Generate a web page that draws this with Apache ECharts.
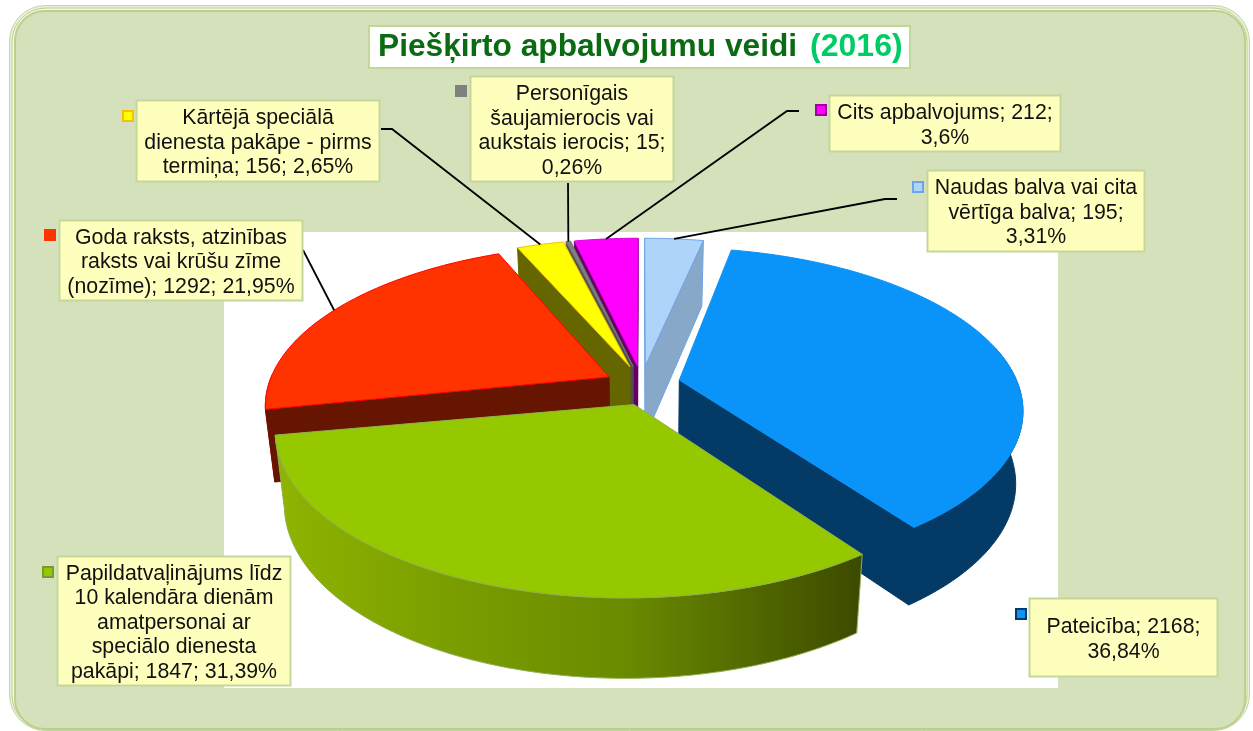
<!DOCTYPE html>
<html>
<head>
<meta charset="utf-8">
<script src="https://cdn.jsdelivr.net/npm/echarts@6/dist/echarts.min.js"></script>
<style>html,body{margin:0;padding:0;background:#fff}#c{width:1253px;height:731px}</style>
</head>
<body>
<div id="c"></div>
<script>
// ---- data (clockwise from 12 o'clock) ----
const categories = [
  'Naudas balva vai cita vērtīga balva',
  'Pateicība',
  'Papildatvaļinājums līdz 10 kalendāra dienām amatpersonai ar speciālo dienesta pakāpi',
  'Goda raksts, atzinības raksts vai krūšu zīme (nozīme)',
  'Kārtējā speciālā dienesta pakāpe - pirms termiņa',
  'Personīgais šaujamierocis vai aukstais ierocis',
  'Cits apbalvojums'
];
const values = [195, 2168, 1847, 1292, 156, 15, 212];
const percents = ['3,31%', '36,84%', '31,39%', '21,95%', '2,65%', '0,26%', '3,6%'];
const labelTexts = [
  'Naudas balva vai cita\nvērtīga balva; 195;\n3,31%',
  'Pateicība; 2168;\n36,84%',
  'Papildatvaļinājums līdz\n10 kalendāra dienām\namatpersonai ar\nspeciālo dienesta\npakāpi; 1847; 31,39%',
  'Goda raksts, atzinības\nraksts vai krūšu zīme\n(nozīme); 1292; 21,95%',
  'Kārtējā speciālā\ndienesta pakāpe - pirms\ntermiņa; 156; 2,65%',
  'Personīgais\nšaujamierocis vai\naukstais ierocis; 15;\n0,26%',
  'Cits apbalvojums; 212;\n3,6%'
];

// ---- styles ----
const topColors  = ['#AFD4FA', '#0A94FA', '#96C800', '#FF3300', '#FFFF00', '#808080', '#FF00FF'];
const wallColors = ['#87A8C8', '#033A66', '#5F7F00', '#661500', '#666600', '#505050', '#660066'];
const edgeColors = ['#6FA5E6', '#0A94FA', '#8FB050', '#FF0000', '#F5C000', '#707070', '#E000E0'];
const keyEdges   = ['#6FA5E6', '#033A66', '#7A9A30', '#FF3300', '#F5C000', '#808080', '#A000A0'];
const greenWall = {type:'linear',x:0,y:0,x2:1,y2:0,colorStops:[
  {offset:0,color:'#8FB400'},{offset:.3,color:'#7A9E00'},{offset:.6,color:'#6A8A00'},{offset:1,color:'#3C4A00'}]};

// ---- projection of the exploded 3D disc ----
const view = {cx:641.5, cy:382.5, rx:340, ry:156.5, depth:71.5, persp:5.5, explode:0.108, shrink:0.975};
// small per-slice correction of the apex, in px, for the source chart's camera
const apexNudge = [[0,0],[2,1],[6,6],[0,2],[0,0],[0,0],[0,0]];
const total = values.reduce((a,b)=>a+b,0);
const starts = [];
values.reduce((acc,v,i)=>{starts[i]=acc/total*360;return acc+v;},0);
const rad = d=>d*Math.PI/180;
function proj(i,deg,r,bottom){
  const a0=starts[i], a1=a0+values[i]/total*360, m=rad((a0+a1)/2);
  const X=view.explode*Math.sin(m)+r*Math.sin(rad(deg));
  const Y=view.explode*Math.cos(m)+r*Math.cos(rad(deg));
  const s=view.persp/(view.persp+Y);
  const sh=bottom?(i===1?0.981:view.shrink):1;
  const n=r===0?apexNudge[i]:[0,0];
  return [view.cx+view.rx*X*s*sh+n[0], view.cy-view.ry*Y*s+(bottom?view.depth*(1+.5*(s-1)):0)+n[1]];
}
function arc(i,a,b,bottom){
  const pts=[];const n=Math.max(2,Math.ceil(Math.abs(b-a)));
  for(let k=0;k<=n;k++)pts.push(proj(i,a+(b-a)*k/n,1,bottom));
  return pts;
}
// painter's order: back slices first, green (front) last
const drawOrder = [0, 6, 5, 4, 1, 3, 2];
const zOf={};drawOrder.forEach((idx,k)=>zOf[idx]=(k+1)*10);

function renderSlice(params,api){
  const i=api.value(0);
  const a0=starts[i], a1=a0+values[i]/total*360;
  const z=zOf[i];
  const kids=[];
  const poly=(points,fill,stroke,z2)=>kids.push({type:'polygon',z2,shape:{points},
    style:{fill,stroke,lineWidth:stroke?1:0,lineJoin:'round'}});
  const apexT=proj(i,a0,0,false), apexB=proj(i,a0,0,true);
  const wall=wallColors[i];
  const outerEdge=i===1?'#033A66':edgeColors[i];
  const cutEdge=i===0?edgeColors[0]:wall;
  const sT=proj(i,a0,1,false), eT=proj(i,a1,1,false);
  const w0=Math.max(a0,i===1?78:90), w1=Math.min(a1,270);
  if(w1>w0) poly(arc(i,w0,w1,false).concat(arc(i,w1,w0,true)),i===2?greenWall:wall,i===2?'#8FB050':outerEdge,z);
  if(sT[0]<apexT[0]) poly([apexT,sT,proj(i,a0,1,true),apexB],wall,cutEdge,z+1);
  if(eT[0]>apexT[0]) poly([apexT,eT,proj(i,a1,1,true),apexB],wall,cutEdge,z+1);
  poly([apexT].concat(arc(i,a0,a1,false)),topColors[i],edgeColors[i],z+2);
  return {type:'group',children:kids};
}

// ---- label layout: [box x0,y0,x1,y1], [key x,y], elbow points from the box to the slice ----
const labelBoxes = [[927,170,1145,252],[1029,598,1218,677],[57,556,291,686],[59,220,303,301],[136,100,380,182],[470,76,674,182],[829,95,1061,152]];
const keySpots   = [[912,181],[1015,608],[42,566],[44,229],[122,110],[455,85],[815,104]];
const elbows     = [[[897,199],[885,199]],[],[],[[303,250]],[[381,129],[392,129]],[[568,183]],[[799,111],[787,111]]];

function renderLabel(params,api){
  const i=api.value(0);
  const b=labelBoxes[i], k=keySpots[i];
  const kids=[];
  if(elbows[i].length){
    const m=starts[i]+values[i]/total*180;
    kids.push({type:'polyline',z2:100,shape:{points:elbows[i].concat([proj(i,m,1,false)])},
      style:{fill:'none',stroke:'#000',lineWidth:1.8}});
  }
  kids.push({type:'rect',z2:101,shape:{x:b[0]+.5,y:b[1]+.5,width:b[2]-b[0]-1,height:b[3]-b[1]-1},
    style:{fill:'#FFFFBD',stroke:'#C4D79B',lineWidth:2}});
  kids.push({type:'rect',z2:102,shape:{x:k[0]+1,y:k[1]+1,width:10,height:10},
    style:{fill:topColors[i],stroke:keyEdges[i],lineWidth:2}});
  kids.push({type:'text',z2:103,style:{text:labelTexts[i],x:(b[0]+b[2])/2,y:(b[1]+b[3])/2+2,
    align:'center',verticalAlign:'middle',fontFamily:'Liberation Sans',fontSize:21.3,lineHeight:24.5,fill:'#111'}});
  return {type:'group',children:kids};
}

const indices = values.map((v,i)=>[i,v]);
const chart = echarts.init(document.getElementById('c'));
chart.setOption({
  animation:false,
  backgroundColor:'#fff',
  title:{
    text:'{a|Piešķirto apbalvojumu veidi}{b|(2016)}',
    left:369, top:24, padding:[6,8,5,9],
    backgroundColor:'#fff', borderColor:'#C4D79B', borderWidth:2,
    textStyle:{rich:{
      a:{fontFamily:'Liberation Sans',fontWeight:'bold',fontSize:31.7,color:'#0B6B13',lineHeight:35},
      b:{fontFamily:'Liberation Sans',fontWeight:'bold',fontSize:32,color:'#00CC66',lineHeight:35,padding:[0,0,0,13]}
    }}
  },
  graphic:[
    {type:'rect',z:-30,silent:true,shape:{x:9.5,y:5.5,width:1240,height:725,r:36},style:{fill:'#EAF0DB',stroke:'#C3D69B',lineWidth:1}},
    {type:'rect',z:-29,silent:true,shape:{x:12,y:8,width:1235,height:721,r:34},style:{fill:'#F4F7EC',stroke:'#BBD08C',lineWidth:1}},
    {type:'rect',z:-28,silent:true,shape:{x:15,y:11,width:1230,height:718,r:30},style:{fill:'#D5E1BB',stroke:'#BBD08C',lineWidth:2}},
    {type:'rect',z:-27,silent:true,shape:{x:224,y:232,width:834,height:456},style:{fill:'#fff'}}
  ],
  series:[
    {type:'custom',coordinateSystem:'none',silent:true,z:3,data:indices,renderItem:renderSlice,encode:{value:[0,1]}},
    {type:'custom',coordinateSystem:'none',silent:true,z:5,data:indices,renderItem:renderLabel,encode:{value:[0,1]}}
  ]
});
</script>
</body>
</html>
